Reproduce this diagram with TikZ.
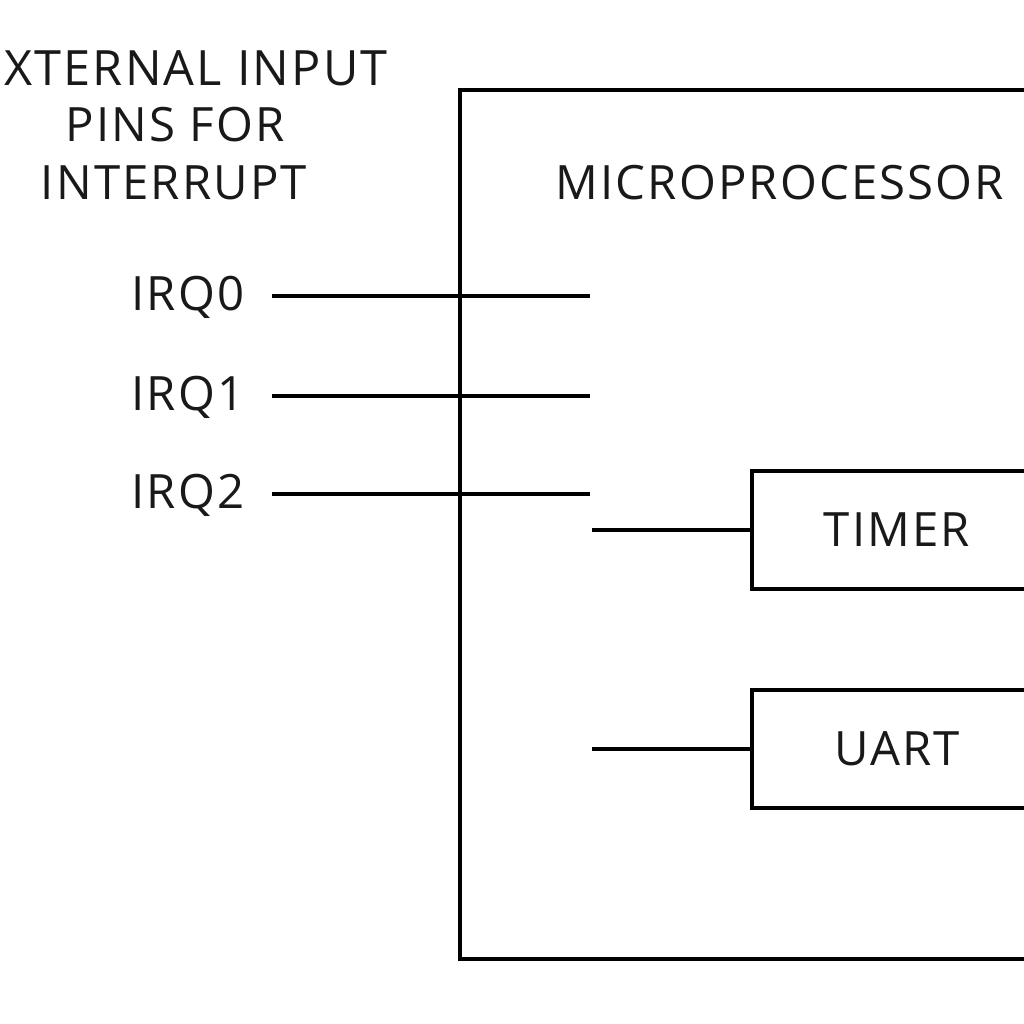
\documentclass[tikz,border=0pt]{standalone}
\usepackage{fontspec}
\setmainfont{Open Sans}[LetterSpace=4.5]
\begin{document}
\begin{tikzpicture}[x=0.75pt,y=-0.75pt,
  wire/.style={line width=2.8pt},
  boxed/.style={draw,line width=2.8pt,rectangle,inner sep=0pt},
  lbl/.style={font=\fontsize{35.5}{40}\selectfont,inner sep=0pt,text=black!90},
  irq/.style={font=\fontsize{35.5}{38}\selectfont,inner sep=0pt,text=black!90}]
\useasboundingbox (0,0) rectangle (1024,1024);
\clip (0,0) rectangle (1024,1024);
% title
\node[lbl,anchor=west,font=\fontsize{36.5}{40}\selectfont] (t1) at (4,68) {XTERNAL INPUT};
\node[lbl] (t2) at (175,125) {PINS FOR};
\node[lbl] (t3) at (174,183) {INTERRUPT};
% microprocessor box
\node[boxed,minimum width=700*0.75pt,minimum height=869*0.75pt,anchor=north west] (mp) at (458,88) {};
\node[lbl] (mplbl) at (780,183) {MICROPROCESSOR};
% IRQ labels
\node[irq] (irq0) at (188,297) {IRQ0};
\node[irq] (irq1) at (188,397) {IRQ1};
\node[irq] (irq2) at (188,495) {IRQ2};
\coordinate (s0) at (272,296); \coordinate (e0) at (590,296);
\coordinate (s1) at (272,396); \coordinate (e1) at (590,396);
\coordinate (s2) at (272,494); \coordinate (e2) at (590,494);
\draw[wire] (s0) -- (e0);
\draw[wire] (s1) -- (e1);
\draw[wire] (s2) -- (e2);
% timer / uart
\node[boxed,lbl,minimum width=290*0.75pt,minimum height=118*0.75pt] (timer) at (897,530) {TIMER};
\node[boxed,lbl,minimum width=290*0.75pt,minimum height=118*0.75pt] (uart) at (897,749) {UART};
\coordinate (ts) at (592,530);
\coordinate (us) at (592,749);
\draw[wire] (ts) -- (timer.west);
\draw[wire] (us) -- (uart.west);
\end{tikzpicture}
\end{document}
